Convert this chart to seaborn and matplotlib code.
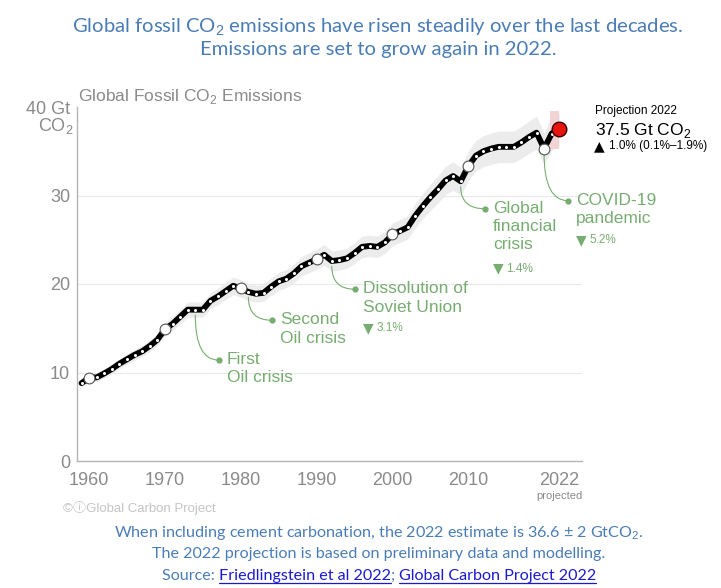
import numpy as np
import matplotlib.pyplot as plt
import pandas as pd
import seaborn as sns

# values (Gt CO2)
years = list(range(1959, 2023))
emissions = [8.8, 9.4, 9.45, 9.9, 10.4, 11.0, 11.5, 12.0, 12.4, 13.0, 13.7,
             14.9, 15.5, 16.3, 17.1, 17.1, 17.1, 18.1, 18.6, 19.2, 19.8,
             19.5, 19.1, 18.9, 19.0, 19.7, 20.3, 20.6, 21.2, 22.0, 22.4,
             22.8, 23.3, 22.6, 22.7, 22.9, 23.5, 24.2, 24.3, 24.2, 24.7,
             25.6, 26.0, 26.4, 27.7, 28.8, 29.8, 30.7, 31.7, 32.2, 31.6,
             33.3, 34.5, 35.0, 35.3, 35.5, 35.5, 35.5, 36.0, 36.6, 37.1,
             35.3, 37.0, 37.5]
decade_years = [1960, 1970, 1980, 1990, 2000, 2010, 2020]
proj_year = 2022
proj_low, proj_high = 35.2, 39.5
x_ticks = [1960, 1970, 1980, 1990, 2000, 2010, 2022]
x_labels = ["1960", "1970", "1980", "1990", "2000", "2010", "2022"]
y_ticks = [0, 10, 20, 30, 40]
y_labels = ["0", "10", "20", "30", "40 Gt"]

# events: (year on curve, label dot year, label dot value, label, drop)
events = [
    (1974, 1977.1, 11.4, "First\nOil crisis", ""),
    (1981, 1984.1, 15.9, "Second\nOil crisis", ""),
    (1992, 1995.1, 19.4, "Dissolution of\nSoviet Union", "3.1%"),
    (2009, 2012.2, 28.5, "Global\nfinancial\ncrisis", "1.4%"),
    (2020, 2023.2, 29.4, "COVID-19\npandemic", "5.2%"),
]

df = pd.DataFrame({"year": years, "emissions": emissions})
df["low"] = df["emissions"] * 0.95
df["high"] = df["emissions"] * 1.05
hist = df[df["year"] <= 2021]

sns.set_style("white")
plt.rcParams["font.family"] = ["Liberation Sans", "DejaVu Sans"]
plt.rcParams["mathtext.fontset"] = "custom"
plt.rcParams["mathtext.rm"] = "Liberation Sans"

W, H = 721, 588
PX = 8.85  # pixels per Gt on the y axis
YR = 7.585  # pixels per year on the x axis
fig = plt.figure(figsize=(W / 100, H / 100), dpi=100)
ax = fig.add_axes([77 / W, 1 - 461 / H, 505 / W, 354 / H])

green = "#77ad70"
gray_txt = "#8a8a8a"
blue_txt = "#4a7db6"

# uncertainty bands
ax.fill_between(hist["year"], hist["low"], hist["high"], color="#ececec", lw=0, zorder=1)
ax.fill_between([2020.8, proj_year], [proj_low] * 2, [proj_high] * 2, color="#f2d4d4", lw=0, zorder=1)
ax.fill_between(df["year"].iloc[-3:], df["low"].iloc[-3:], df["high"].iloc[-3:],
                color="#ececec", lw=0, zorder=0.9)

# main line with white year dots
sns.lineplot(data=df, x="year", y="emissions", ax=ax, color="black", lw=4.2,
             marker="o", markersize=2.2, markerfacecolor="white",
             markeredgewidth=0, zorder=3)

dec = df[df["year"].isin(decade_years)]
sns.scatterplot(data=dec, x="year", y="emissions", ax=ax, s=60, color="white",
                edgecolor="#555555", linewidth=0.8, zorder=4)
last = df[df["year"] == proj_year]
sns.scatterplot(data=last, x="year", y="emissions", ax=ax, s=110, color="#e8150f",
                edgecolor="#3a0000", linewidth=1.0, zorder=5, clip_on=False)

# event leaders
for yr, tx, ty, label, drop in events:
    cy = df.loc[df["year"] == yr, "emissions"].iloc[0]
    ax.annotate("", xy=(yr, cy - 0.6), xytext=(tx, ty),
                arrowprops=dict(arrowstyle="-", color=green, lw=0.8,
                                connectionstyle="angle3,angleA=0,angleB=90",
                                shrinkA=0, shrinkB=0), zorder=2)
    ax.plot(tx, ty, "o", color=green, ms=3.5, zorder=2, clip_on=False)
    ax.text(tx + 1.05, ty + 8 / PX, label, color=green, fontsize=12.5, va="top",
            ha="left", linespacing=1.28)
    if drop:
        nlines = label.count("\n") + 1
        dy = ty - (nlines * 21 - 3) / PX
        ax.text(tx + 1.0, dy, "\u25bc", color=green, fontsize=10, va="center",
                ha="left", family=["DejaVu Sans"])
        ax.text(tx + 1.0 + 14 / YR, dy, drop, color=green, fontsize=8.5,
                va="center", ha="left")

# axes styling
ax.set_xlim(1958.4, 2025.0)
ax.set_ylim(0, 40)
ax.set_xticks(x_ticks)
ax.set_xticklabels(x_labels)
ax.set_yticks(y_ticks)
ax.set_yticklabels(y_labels)
ax.set_xlabel("")
ax.set_ylabel("")
for y in [10, 20, 30]:
    ax.axhline(y, color="#e9e9e9", lw=0.8, zorder=0)
for s in ["top", "right"]:
    ax.spines[s].set_visible(False)
for s in ["left", "bottom"]:
    ax.spines[s].set_color("#b5b5b5")
    ax.spines[s].set_linewidth(1.0)
ax.tick_params(axis="x", direction="in", length=4, color="#b5b5b5",
               labelcolor=gray_txt, labelsize=13, pad=8)
ax.tick_params(axis="y", direction="out", length=4, color="#b5b5b5",
               labelcolor=gray_txt, labelsize=13, pad=1)
ax.text(-0.006, 37.8, "CO$_2$", transform=ax.get_yaxis_transform(), ha="right",
        va="center", color=gray_txt, fontsize=13)
ax.text(2022, -35 / PX, "projected", ha="center", va="center", color=gray_txt,
        fontsize=8, clip_on=False)

# chart texts
fig.text(78 / W, 1 - 97 / H, "Global Fossil CO$_2$ Emissions", color=gray_txt,
         fontsize=12.5, va="center", ha="left")
fig.text(595 / W, 1 - 111 / H, "Projection 2022", color="black", fontsize=8.5, va="center")
fig.text(595 / W, 1 - 130 / H, "37.5 Gt CO$_2$", color="black", fontsize=12.5, va="center")
fig.text(594 / W, 1 - 146 / H, "\u25b2", color="black", fontsize=10, va="center",
         family=["DejaVu Sans"])
fig.text(609 / W, 1 - 146 / H, "1.0% (0.1%\u20131.9%)", color="black", fontsize=8.5,
         va="center")
fig.text(63 / W, 1 - 508 / H, "\u00a9\u24d8Global Carbon Project", color="#c4c4c4",
         fontsize=9.5, va="center",
         family=["Liberation Sans", "Noto Sans CJK SC", "DejaVu Sans"])

# title and footnotes
fig.text(378 / W, 1 - 27 / H, "Global fossil CO$_2$ emissions have risen steadily over the last decades.",
         color=blue_txt, fontsize=14.6, ha="center", va="center", family=["Lato", "DejaVu Sans"])
fig.text(378 / W, 1 - 50 / H, "Emissions are set to grow again in 2022.",
         color=blue_txt, fontsize=14.6, ha="center", va="center", family=["Lato", "DejaVu Sans"])
fig.text(379 / W, 1 - 533 / H,
         "When including cement carbonation, the 2022 estimate is 36.6 \u00b1 2 GtCO$_2$.",
         color=blue_txt, fontsize=11.6, ha="center", va="center", family=["Lato", "DejaVu Sans"])
fig.text(379 / W, 1 - 554 / H, "The 2022 projection is based on preliminary data and modelling.",
         color=blue_txt, fontsize=11.6, ha="center", va="center", family=["Lato", "DejaVu Sans"])

# source line built from pieces, links underlined
pieces = [("Source: ", blue_txt, False), ("Friedlingstein et al 2022", "#1a1ad0", True),
          ("; ", blue_txt, False), ("Global Carbon Project 2022", "#1a1ad0", True)]
fig.canvas.draw()
r = fig.canvas.get_renderer()
objs = []
for txt, col, _ in pieces:
    objs.append(fig.text(0, 1 - 575 / H, txt, color=col, fontsize=11.6, va="baseline",
                         ha="left", family=["Lato", "DejaVu Sans"]))
widths = [o.get_window_extent(r).width for o in objs]
x0 = 379 - sum(widths) / 2
base = 1 - 580 / H
for o, w, (txt, col, ul) in zip(objs, widths, pieces):
    o.set_position((x0 / W, base))
    if ul:
        fig.add_artist(plt.Line2D([x0 / W, (x0 + w) / W], [base - 2.5 / H] * 2,
                                  color=col, lw=0.9))
    x0 += w

fig.savefig("out.png", dpi=100)
